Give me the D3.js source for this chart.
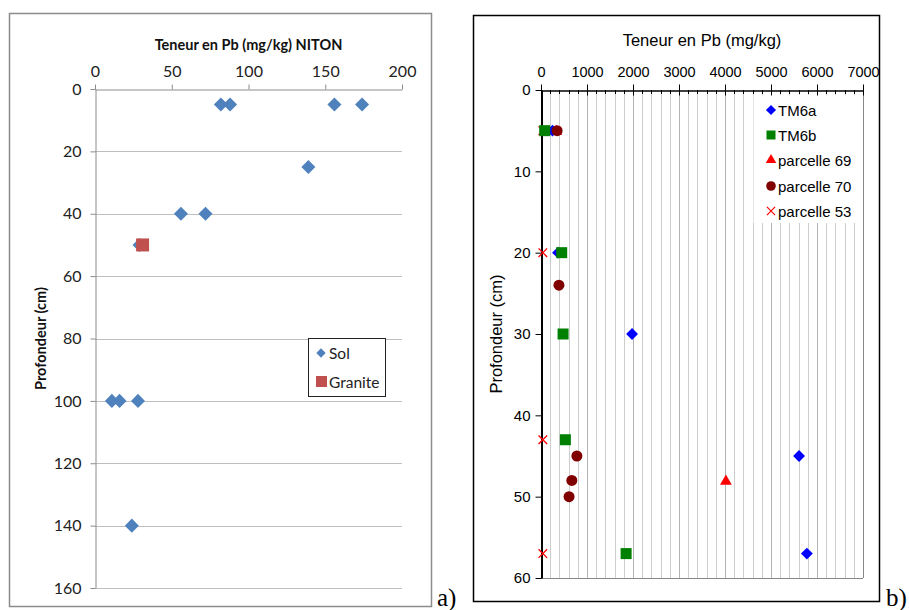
<!DOCTYPE html>
<html><head><meta charset="utf-8">
<script src="https://cdn.jsdelivr.net/npm/d3@7"></script>
<style>body{margin:0;background:#fff}svg{display:block}</style>
</head><body>
<svg id="c" width="909" height="610"></svg>
<script>
// ---- Chart a) NITON ----
const solX = [82, 88, 156, 174, 139, 56, 72, 29, 11, 16, 28, 24];
const solDepth = [5, 5, 5, 5, 25, 40, 40, 50, 100, 100, 100, 140];
const graniteX = [31];
const graniteDepth = [50];
const aXTicks = [0, 50, 100, 150, 200];
const aYTicks = [0, 20, 40, 60, 80, 100, 120, 140, 160];

// ---- Chart b) ----
const tm6aX = [250, 370, 1980, 5610, 5780];
const tm6aDepth = [5, 20, 30, 45, 57];
const tm6bX = [80, 450, 480, 530, 1850];
const tm6bDepth = [5, 20, 30, 43, 57];
const p69X = [330, 4020];
const p69Depth = [5, 48];
const p70X = [350, 390, 780, 670, 610];
const p70Depth = [5, 24, 45, 48, 50];
const p53X = [40, 40, 40, 40];
const p53Depth = [5, 20, 43, 57];
const bXTicks = [0, 1000, 2000, 3000, 4000, 5000, 6000, 7000];
const bYTicks = [0, 10, 20, 30, 40, 50, 60];

const svg = d3.select("#c");

// ================= Chart a =================
const fa = "Lato, 'Open Sans', sans-serif";
svg.append("rect").attr("x", 9.5).attr("y", 13.5).attr("width", 422).attr("height", 593)
  .attr("fill", "#fff").attr("stroke", "#8c8c8c").attr("stroke-width", 1.5);

const xa = d3.scaleLinear().domain([0, 200]).range([95, 402]);
const ya = d3.scaleLinear().domain([0, 160]).range([89, 588]);

const ga = svg.append("g");
ga.selectAll("line.grid").data(aYTicks.slice(1)).join("line")
  .attr("x1", xa(0)).attr("x2", xa(200))
  .attr("y1", d => Math.round(ya(d)) + 0.5).attr("y2", d => Math.round(ya(d)) + 0.5)
  .attr("stroke", "#bfbfbf").attr("stroke-width", 1);

const axTop = ga.append("g").attr("transform", `translate(0,${Math.round(ya(0)) + 0.5})`)
  .call(d3.axisTop(xa).tickValues(aXTicks).tickSize(5).tickSizeOuter(0).tickPadding(8));
axTop.select(".domain").attr("stroke", "#8c8c8c");
axTop.selectAll(".tick line").attr("stroke", "#8c8c8c");
axTop.selectAll(".tick text").attr("font-family", fa).attr("font-size", 16).attr("fill", "#222");

const axLeft = ga.append("g").attr("transform", `translate(${Math.round(xa(0)) + 0.5},0)`)
  .call(d3.axisLeft(ya).tickValues(aYTicks).tickSize(5).tickSizeOuter(0).tickPadding(9));
axLeft.select(".domain").attr("stroke", "#8c8c8c");
axLeft.selectAll(".tick line").attr("stroke", "#8c8c8c");
axLeft.selectAll(".tick text").attr("font-family", fa).attr("font-size", 16).attr("fill", "#222");

svg.append("text").attr("x", (xa(0) + xa(200)) / 2).attr("y", 50).attr("text-anchor", "middle")
  .attr("font-family", fa).attr("font-weight", "bold").attr("font-size", 14.5).attr("fill", "#111")
  .text("Teneur en Pb (mg/kg) NITON");
svg.append("text").attr("transform", `translate(46,${(ya(0) + ya(160)) / 2}) rotate(-90)`)
  .attr("text-anchor", "middle").attr("font-family", fa).attr("font-weight", "bold").attr("font-size", 14.5)
  .attr("fill", "#111").text("Profondeur (cm)");

const diamA = d3.symbol().type(d3.symbolDiamond2).size(125);
ga.selectAll("path.sol").data(solX.map((v, i) => [v, solDepth[i]])).join("path")
  .attr("transform", d => `translate(${xa(d[0])},${ya(d[1])})`)
  .attr("d", diamA).attr("fill", "#4f81bd");
ga.selectAll("rect.gran").data(graniteX.map((v, i) => [v, graniteDepth[i]])).join("rect")
  .attr("x", d => xa(d[0]) - 6.5).attr("y", d => ya(d[1]) - 6.5).attr("width", 13).attr("height", 13)
  .attr("fill", "#c0504d");

// legend a
const la = svg.append("g");
la.append("rect").attr("x", 308.5).attr("y", 338.5).attr("width", 77).attr("height", 58)
  .attr("fill", "#fff").attr("stroke", "#222").attr("stroke-width", 1);
la.append("path").attr("transform", "translate(321,353)").attr("d", d3.symbol().type(d3.symbolDiamond2).size(55)).attr("fill", "#4f81bd");
la.append("text").attr("x", 329).attr("y", 358.5).attr("font-family", fa).attr("font-size", 15.5).attr("fill", "#222").text("Sol");
la.append("rect").attr("x", 316).attr("y", 376).attr("width", 11).attr("height", 11).attr("fill", "#c0504d");
la.append("text").attr("x", 329).attr("y", 387.5).attr("font-family", fa).attr("font-size", 15.5).attr("fill", "#222").text("Granite");

svg.append("text").attr("x", 437).attr("y", 606).attr("font-family", "'Liberation Serif', serif")
  .attr("font-size", 25).attr("fill", "#000").text("a)");

// ================= Chart b =================
const fb = "'Liberation Sans', Arial, sans-serif";
svg.append("rect").attr("x", 473.5).attr("y", 15.5).attr("width", 406).attr("height", 586)
  .attr("fill", "#fff").attr("stroke", "#000").attr("stroke-width", 1.5);

const xb = d3.scaleLinear().domain([0, 7000]).range([541, 863]);
const yb = d3.scaleLinear().domain([0, 60]).range([90, 578]);
const gb = svg.append("g");

const minor = d3.range(200, 7000, 200);
gb.selectAll("line.vg").data(minor).join("line")
  .attr("x1", d => Math.round(xb(d)) + 0.5).attr("x2", d => Math.round(xb(d)) + 0.5)
  .attr("y1", yb(0)).attr("y2", yb(60))
  .attr("stroke", d => d % 1000 === 0 ? "#b4b4b4" : "#cdcdcd").attr("stroke-width", 1);
gb.append("line").attr("x1", Math.round(xb(7000)) + 0.5).attr("x2", Math.round(xb(7000)) + 0.5)
  .attr("y1", yb(0)).attr("y2", yb(60)).attr("stroke", "#888");
gb.append("line").attr("x1", xb(0)).attr("x2", xb(7000))
  .attr("y1", Math.round(yb(60)) + 0.5).attr("y2", Math.round(yb(60)) + 0.5).attr("stroke", "#888");

// legend b background
gb.append("rect").attr("x", 753.5).attr("y", 95).attr("width", 109).attr("height", 128).attr("fill", "#fff");

gb.selectAll("line.mt").data(minor).join("line")
  .attr("x1", d => Math.round(xb(d)) + 0.5).attr("x2", d => Math.round(xb(d)) + 0.5)
  .attr("y1", yb(0)).attr("y2", yb(0) + 4).attr("stroke", "#000");

const bxTop = gb.append("g").attr("transform", `translate(0,${Math.round(yb(0)) + 0.5})`)
  .call(d3.axisTop(xb).tickValues(bXTicks).tickFormat(d3.format("d")).tickSize(6).tickSizeOuter(0).tickPadding(8));
bxTop.select(".domain").attr("stroke", "#000").attr("stroke-width", 1.5);
bxTop.selectAll(".tick line").attr("stroke", "#000").attr("y2", -6).attr("y1", 5);
bxTop.selectAll(".tick text").attr("font-family", fb).attr("font-size", 14.5).attr("fill", "#000");

const byLeft = gb.append("g").attr("transform", `translate(${Math.round(xb(0)) + 0.5},0)`)
  .call(d3.axisLeft(yb).tickValues(bYTicks).tickFormat(d3.format("d")).tickSize(6).tickSizeOuter(0).tickPadding(5));
byLeft.select(".domain").attr("stroke", "#000").attr("stroke-width", 2);
byLeft.selectAll(".tick line").attr("stroke", "#000");
byLeft.selectAll(".tick text").attr("font-family", fb).attr("font-size", 15).attr("fill", "#000");

svg.append("text").attr("x", (xb(0) + xb(7000)) / 2).attr("y", 46).attr("text-anchor", "middle")
  .attr("font-family", fb).attr("font-size", 16.5).attr("fill", "#000").text("Teneur en Pb (mg/kg)");
svg.append("text").attr("transform", `translate(502,${(yb(0) + yb(60)) / 2}) rotate(-90)`)
  .attr("text-anchor", "middle").attr("font-family", fb).attr("font-size", 16.5).attr("fill", "#000")
  .text("Profondeur (cm)");

const pts = (xs, ds) => xs.map((v, i) => [v, ds[i]]);
const diamB = d3.symbol().type(d3.symbolDiamond2).size(90);
const triB = d3.symbol().type(d3.symbolTriangle2).size(100);
const crossB = d3.symbol().type(d3.symbolTimes).size(50);

gb.selectAll("path.p53").data(pts(p53X, p53Depth)).join("path")
  .attr("transform", d => `translate(${xb(d[0])},${yb(d[1])})`).attr("d", crossB)
  .attr("fill", "none").attr("stroke", "#ff0000").attr("stroke-width", 1.3);
gb.selectAll("path.p69").data(pts(p69X, p69Depth)).join("path")
  .attr("transform", d => `translate(${xb(d[0])},${yb(d[1]) + 1})`).attr("d", triB).attr("fill", "#ff0000");
gb.selectAll("path.tm6a").data(pts(tm6aX, tm6aDepth)).join("path")
  .attr("transform", d => `translate(${xb(d[0])},${yb(d[1])})`).attr("d", diamB).attr("fill", "#0000ff");
gb.selectAll("rect.tm6b").data(pts(tm6bX, tm6bDepth)).join("rect")
  .attr("x", d => xb(d[0]) - 5.5).attr("y", d => yb(d[1]) - 5.5).attr("width", 11).attr("height", 11).attr("fill", "#008000");
gb.selectAll("circle.p70").data(pts(p70X, p70Depth)).join("circle")
  .attr("cx", d => xb(d[0])).attr("cy", d => yb(d[1])).attr("r", 5.5).attr("fill", "#800000");

// legend b entries
const lb = svg.append("g").attr("font-family", fb).attr("font-size", 15).attr("fill", "#000");
const legY = [110, 135, 160, 186, 211];
const legNames = ["TM6a", "TM6b", "parcelle 69", "parcelle 70", "parcelle 53"];
const mx = 771;
lb.append("path").attr("transform", `translate(${mx},${legY[0]})`).attr("d", d3.symbol().type(d3.symbolDiamond2).size(65)).attr("fill", "#0000ff");
lb.append("rect").attr("x", mx - 4.5).attr("y", legY[1] - 4.5).attr("width", 9).attr("height", 9).attr("fill", "#008000");
lb.append("path").attr("transform", `translate(${mx},${legY[2]})`).attr("d", d3.symbol().type(d3.symbolTriangle2).size(80)).attr("fill", "#ff0000");
lb.append("circle").attr("cx", mx).attr("cy", legY[3]).attr("r", 4.8).attr("fill", "#800000");
lb.append("path").attr("transform", `translate(${mx},${legY[4]})`).attr("d", d3.symbol().type(d3.symbolTimes).size(45))
  .attr("fill", "none").attr("stroke", "#ff0000").attr("stroke-width", 1.2);
legNames.forEach((n, i) => lb.append("text").attr("x", 778).attr("y", legY[i] + 5.5).text(n));

svg.append("text").attr("x", 886).attr("y", 606).attr("font-family", "'Liberation Serif', serif")
  .attr("font-size", 25).attr("fill", "#000").text("b)");
</script>
</body></html>
